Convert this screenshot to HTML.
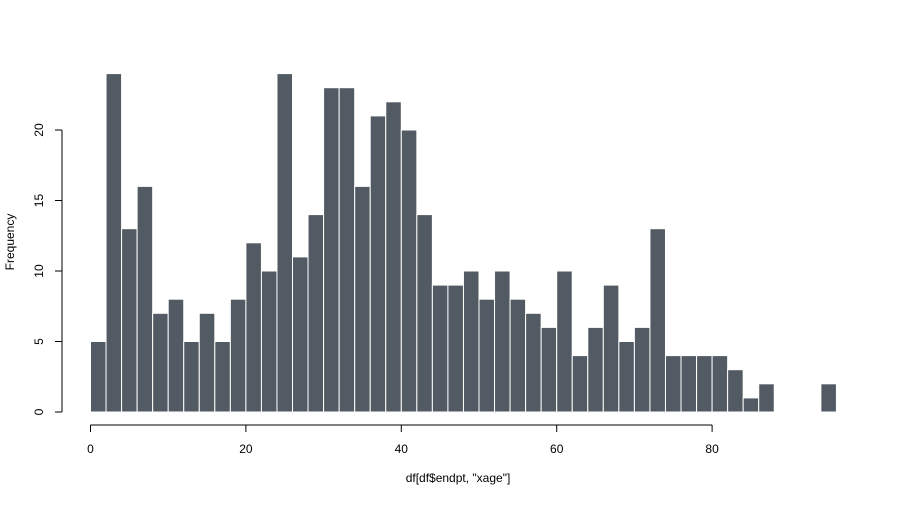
<!DOCTYPE html>
<html><head><meta charset="utf-8"><style>
body{margin:0;background:#fff;font-family:"Liberation Sans",Arial,sans-serif;}
svg text{font-family:"Liberation Sans",Arial,sans-serif;font-size:12px;fill:#000;}
</style></head><body>
<svg id="c" width="900" height="500" xmlns="http://www.w3.org/2000/svg"></svg>
<script>
const binStarts=[0,2,4,6,8,10,12,14,16,18,20,22,24,26,28,30,32,34,36,38,40,42,44,46,48,50,52,54,56,58,60,62,64,66,68,70,72,74,76,78,80,82,84,86,88,90,92,94];
const counts=[5,24,13,16,7,8,5,7,5,8,12,10,24,11,14,23,23,16,21,22,20,14,9,9,10,8,10,8,7,6,10,4,6,9,5,6,13,4,4,4,4,3,1,2,0,0,0,2];
const binWidth=2;
const xTicks=[0,20,40,60,80];
const yTicks=[0,5,10,15,20];
const NS="http://www.w3.org/2000/svg";
const svg=document.getElementById('c');
function X(v){return 90.5+v*7.77;}
function Y(v){return 412-v*14.1;}
function mk(t,a,p){const e=document.createElementNS(NS,t);for(const k in a)e.setAttribute(k,a[k]);(p||svg).appendChild(e);return e;}
const bars=mk('g',{});


binStarts.forEach((s,i)=>{
  if(counts[i]<=0)return;
  const r=mk('rect',{x:X(s),y:Y(counts[i]),width:X(s+binWidth)-X(s),height:Y(0)-Y(counts[i]),fill:'#525b63',stroke:'#fff','stroke-width':1},bars);
  
  
});
const xa=mk('g',{});


mk('line',{x1:X(xTicks[0]),x2:X(xTicks[xTicks.length-1]),y1:425,y2:425,stroke:'#000'},xa);
xTicks.forEach(t=>{
  mk('line',{x1:X(t),x2:X(t),y1:425,y2:432,stroke:'#000'},xa);
  const tx=mk('text',{x:X(t),y:453,'text-anchor':'middle'},xa);tx.textContent=t;
  
  
});
const ya=mk('g',{});


mk('line',{x1:62,x2:62,y1:Y(yTicks[0]),y2:Y(yTicks[yTicks.length-1]),stroke:'#000'},ya);
yTicks.forEach(t=>{
  mk('line',{x1:55,x2:62,y1:Y(t),y2:Y(t),stroke:'#000'},ya);
  const tx=mk('text',{x:43,y:Y(t),'text-anchor':'middle',transform:`rotate(-90 43 ${Y(t)})`},ya);tx.textContent=t;
  
  
});
const xl=mk('text',{x:458,y:482,'text-anchor':'middle'});xl.textContent='df[df$endpt, "xage"]';


const yl=mk('text',{x:14,y:242,'text-anchor':'middle',transform:'rotate(-90 14 242)'});yl.textContent='Frequency';


</script>
</body></html>
